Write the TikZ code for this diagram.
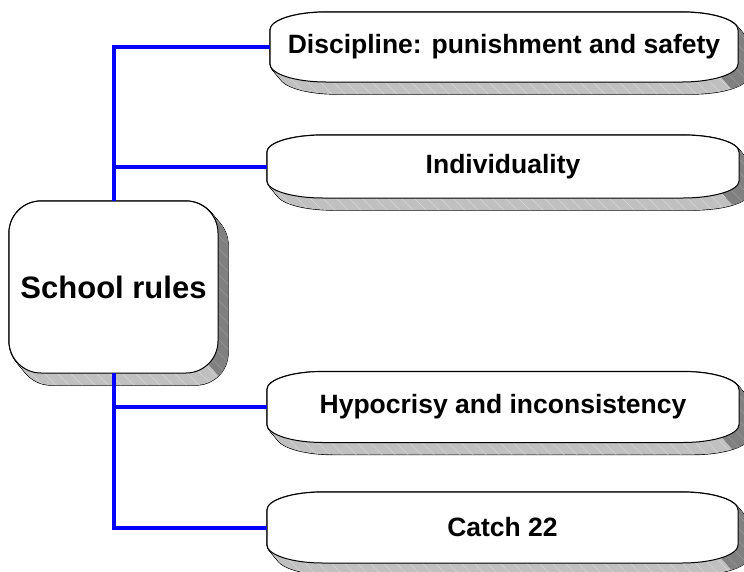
\documentclass[tikz,border=0pt]{standalone}
\usepackage{fontspec}
\setmainfont{Liberation Sans}
\definecolor{shL}{HTML}{C0C0C0}
\definecolor{shD}{HTML}{808080}
\definecolor{hatL}{HTML}{D6D6D6}
\definecolor{hatD}{HTML}{989898}
\definecolor{linkblue}{HTML}{0000FF}
\tikzset{
  boxtext/.style={font=\fontsize{26.5}{30}\selectfont\bfseries, inner sep=0pt},
  maintext/.style={font=\fontsize{31}{36}\selectfont\bfseries, inner sep=0pt},
  conn/.style={draw=linkblue, line width=4pt, line join=miter},
  hatchline/.style={line width=0.5pt},
  frontface/.style={fill=white, draw=black, line width=1pt},
}
% #1 L, #2 T, #3 R, #4 B, #5 rx, #6 ry, #7 options
\newcommand\pillowpath[7]{%
  \path[#7] (#1,{#2+#6}) .. controls (#1,{#2+0.448*#6}) and ({#1+0.448*#5},#2) .. ({#1+#5},#2)
    -- ({#3-#5},#2) .. controls ({#3-0.448*#5},#2) and (#3,{#2+0.448*#6}) .. (#3,{#2+#6})
    -- (#3,{#4-#6}) .. controls (#3,{#4-0.448*#6}) and ({#3-0.448*#5},#4) .. ({#3-#5},#4)
    -- ({#1+#5},#4) .. controls ({#1+0.448*#5},#4) and (#1,{#4-0.448*#6}) .. (#1,{#4-#6}) -- cycle;}
% #7 colour of the hatch lines
\newcommand\hatchin[7]{%
  \begin{scope}
    \pillowpath{#1}{#2}{#3}{#4}{#5}{#6}{clip,shift={(10,12)}}
    \foreach \k in {0,...,62}{\draw[hatchline,#7] ({#1-300+\k*13},{#2-20}) -- ++(300,300);}
  \end{scope}}
\newcommand\shadowbox[6]{%
  \foreach \i in {0,...,20}{\pillowpath{#1}{#2}{#3}{#4}{#5}{#6}{draw=black,line width=1.3pt,shift={({\i*0.5},{\i*0.6})}}}
  \foreach \i in {0,...,20}{\pillowpath{#1}{#2}{#3}{#4}{#5}{#6}{fill=shL,shift={({\i*0.5},{\i*0.6})}}}
  \hatchin{#1}{#2}{#3}{#4}{#5}{#6}{hatL}
  \begin{scope}
    \clip ({#3-0.293*#5},{#4-0.293*#6}) -- ({#3-0.293*#5+40},{#4-0.293*#6+48}) -- ({#3+100},{#4+48})
      -- ({#3+100},{#2-100}) -- ({#3-0.293*#5},{#2-100}) -- cycle;
    \foreach \i in {0,...,20}{\pillowpath{#1}{#2}{#3}{#4}{#5}{#6}{fill=shD,shift={({\i*0.5},{\i*0.6})}}}
    \hatchin{#1}{#2}{#3}{#4}{#5}{#6}{hatD}
  \end{scope}
  \pillowpath{#1}{#2}{#3}{#4}{#5}{#6}{frontface}}
\begin{document}
\begin{tikzpicture}[x=1pt,y=-1pt]
\useasboundingbox[fill=white] (0,0) rectangle (744,571);
% shapes
\shadowbox{9}{201}{218}{373}{32}{32}
\shadowbox{270}{12}{738}{82}{56}{18}
\shadowbox{267}{135}{739}{198}{56}{17}
\shadowbox{267}{371.5}{739}{442.5}{56}{18}
\shadowbox{267}{492}{738}{563}{56}{18}
% nodes
\node[maintext, minimum width=209pt, minimum height=172pt] (main) at (113.5,287) {School rules};
\node[boxtext, minimum width=468pt, minimum height=70pt] (b1) at (504,47) {Discipline: punishment and safety};
\node[boxtext, minimum width=472pt, minimum height=63pt] (b2) at (503,166.5) {Individuality};
\node[boxtext, minimum width=472pt, minimum height=71pt] (b3) at (503,407) {Hypocrisy and inconsistency};
\node[boxtext, minimum width=471pt, minimum height=71pt] (b4) at (502.5,527.5) {Catch 22};
% connectors
\draw[conn] (b1.west) -| (main.north);
\draw[conn] (b2.west) -- (b2.west -| main.north);
\draw[conn] (b3.west) -| (main.south);
\draw[conn] (b4.west) -| (main.south);
\end{tikzpicture}
\end{document}
